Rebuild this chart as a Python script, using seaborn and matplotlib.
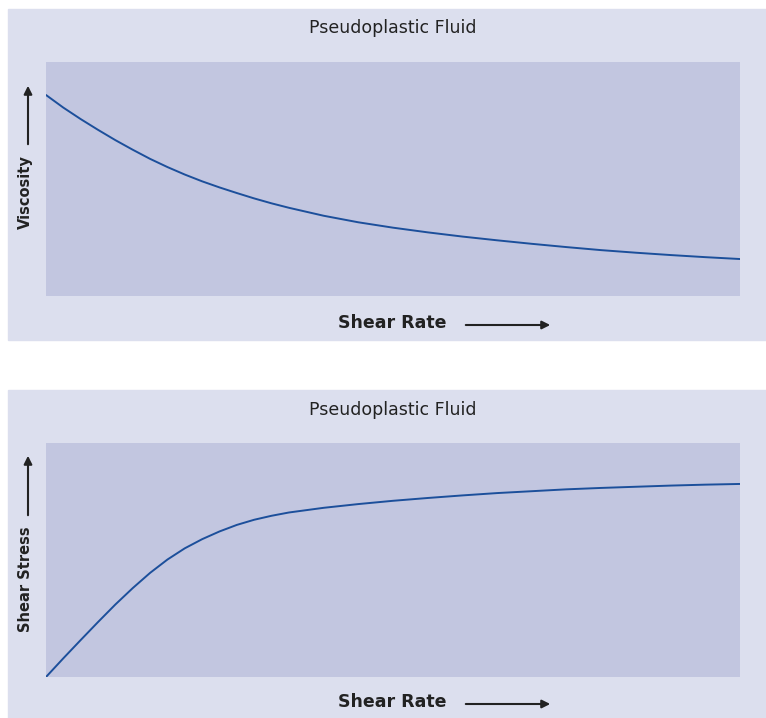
import matplotlib
matplotlib.use("Agg")
import matplotlib.pyplot as plt
import seaborn as sns
import pandas as pd
from matplotlib.patches import Rectangle

# Values (arbitrary units, 0-10 on both axes)
shear_rate = [0, 0.25, 0.5, 0.75, 1.0, 1.25, 1.5, 1.75, 2.0, 2.25, 2.5, 2.75,
              3.0, 3.25, 3.5, 4.0, 4.5, 5.0, 5.5, 6.0, 6.5, 7.0, 7.5, 8.0,
              8.5, 9.0, 9.5, 10.0]
viscosity = [8.59, 8.05, 7.56, 7.10, 6.66, 6.25, 5.86, 5.51, 5.19, 4.90, 4.64, 4.40,
             4.17, 3.96, 3.77, 3.43, 3.15, 2.92, 2.72, 2.54, 2.38, 2.23, 2.09, 1.96,
             1.85, 1.75, 1.66, 1.58]
shear_stress = [0, 0.80, 1.58, 2.35, 3.10, 3.80, 4.45, 5.02, 5.50, 5.89, 6.22, 6.50,
                6.72, 6.89, 7.03, 7.23, 7.39, 7.53, 7.65, 7.76, 7.86, 7.94, 8.02, 8.08,
                8.13, 8.18, 8.22, 8.25]

title = "Pseudoplastic Fluid"
x_label = "Shear Rate"
y_labels = ["Viscosity", "Shear Stress"]

sns.set_style("white")
plt.rcParams['font.family'] = ['DejaVu Sans']

panel_color = '#dcdfee'
plot_color = '#c2c6e0'
line_color = '#1c4f9b'
text_color = '#222222'

W, H = 766, 718
fig = plt.figure(figsize=(W / 100, H / 100), dpi=100)


def fx(x):
    return x / W


def fy(y):
    return 1 - y / H


df = pd.DataFrame({'shear_rate': shear_rate,
                   'viscosity': viscosity,
                   'shear_stress': shear_stress})

# outer panel boxes (top, bottom) in image pixels: x0, y0, x1, y1
panels = [(8, 9, 766, 340), (8, 390, 766, 718)]
# inner plot areas
plots = [(46, 62, 740, 296), (46, 443, 740, 677)]
title_y = [28, 410]
xlabel_y = [323, 702]
ylabel_y = [192, 579]
yarrow = [(147, 83), (518, 453)]

for i, col in enumerate(['viscosity', 'shear_stress']):
    px0, py0, px1, py1 = panels[i]
    fig.patches.append(Rectangle((fx(px0), fy(py1)), (px1 - px0) / W, (py1 - py0) / H,
                                 transform=fig.transFigure, color=panel_color, zorder=-5))

    x0, y0, x1, y1 = plots[i]
    ax = fig.add_axes([fx(x0), fy(y1), (x1 - x0) / W, (y1 - y0) / H], zorder=2)
    ax.set_facecolor(plot_color)
    sns.lineplot(data=df, x='shear_rate', y=col, ax=ax, color=line_color, linewidth=1.4)
    ax.set_xlim(0, 10)
    ax.set_ylim(0, 10)
    ax.set_xticks([])
    ax.set_yticks([])
    ax.set_xlabel('')
    ax.set_ylabel('')
    for s in ax.spines.values():
        s.set_visible(False)

    fig.text(fx(393), fy(title_y[i]), title, ha='center', va='center',
             fontsize=12.5, color=text_color, zorder=3)
    fig.text(fx(392), fy(xlabel_y[i]), x_label, ha='center', va='center',
             fontsize=12.5, fontweight='bold', color=text_color, zorder=3)
    fig.text(fx(25), fy(ylabel_y[i]), y_labels[i], ha='center', va='center',
             rotation=90, fontsize=10.5, fontweight='bold', color=text_color, zorder=3)

    # arrows next to the axis labels
    ax.annotate('', xy=(fx(553), fy(xlabel_y[i] + 2)), xycoords='figure fraction',
                xytext=(fx(463), fy(xlabel_y[i] + 2)), textcoords='figure fraction',
                arrowprops=dict(arrowstyle='-|>', color=text_color, lw=1.5,
                                mutation_scale=12), annotation_clip=False)
    ax.annotate('', xy=(fx(28), fy(yarrow[i][1])), xycoords='figure fraction',
                xytext=(fx(28), fy(yarrow[i][0])), textcoords='figure fraction',
                arrowprops=dict(arrowstyle='-|>', color=text_color, lw=1.5,
                                mutation_scale=12), annotation_clip=False)

plt.savefig('out.png', dpi=100)
